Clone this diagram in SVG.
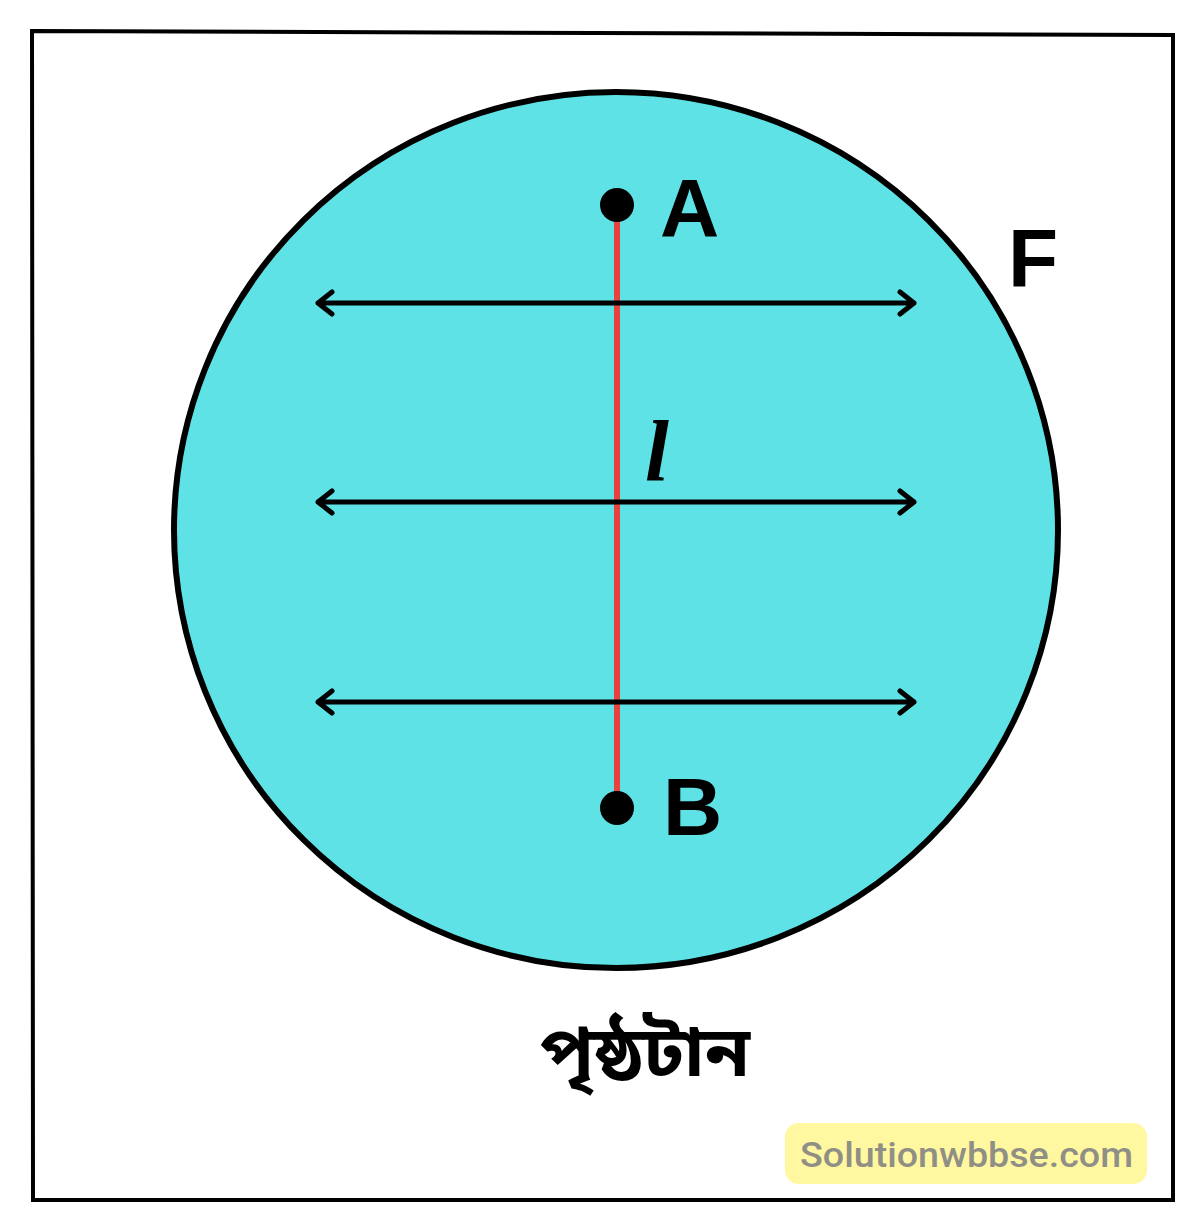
<svg xmlns="http://www.w3.org/2000/svg" width="1200" height="1222" viewBox="0 0 1200 1222">
  <style>
    .lbl { font-family: "Liberation Sans", Arial, sans-serif; font-weight: bold; font-size: 82px; fill: #000; }
    .arrow { stroke: #000; stroke-width: 5; fill: none; stroke-linecap: round; stroke-linejoin: round; }
  </style>
  <rect width="1200" height="1222" fill="#ffffff"/>
  <polygon id="frame" points="32,31 1173,35 1173,1200 33,1200" fill="none" stroke="#000" stroke-width="4"/>
  <g id="surface">
    <ellipse cx="616" cy="530" rx="442" ry="438" fill="#5ee2e6" stroke="#000" stroke-width="6"/>
  </g>
  <g id="connectors">
    <line x1="617" y1="205" x2="617" y2="808" stroke="#e8423c" stroke-width="6"/>
    <g class="arrow">
      <path d="M318,303 H914 M332,292 L318,303 L332,314 M900,292 L914,303 L900,314"/>
      <path d="M318,502 H914 M332,491 L318,502 L332,513 M900,491 L914,502 L900,513"/>
      <path d="M318,702 H914 M332,691 L318,702 L332,713 M900,691 L914,702 L900,713"/>
    </g>
  </g>
  <g id="pointA">
    <circle cx="617" cy="205" r="17" fill="#000"/>
    <text class="lbl" x="660" y="236">A</text>
  </g>
  <g id="pointB">
    <circle cx="617" cy="808" r="17" fill="#000"/>
    <text class="lbl" x="663" y="835">B</text>
  </g>
  <g id="labelF">
    <text class="lbl" x="1008" y="287">F</text>
  </g>
  <g id="labelL">
    <text x="645" y="480" font-family="Liberation Serif, serif" font-style="italic" font-weight="bold" font-size="86" fill="#000">l</text>
  </g>
  <g id="caption">
    <text x="540" y="1076" font-family="'Noto Sans Bengali', 'Noto Sans', 'Noto Serif Bengali', sans-serif" font-weight="bold" font-size="70" fill="#000" textLength="210" lengthAdjust="spacingAndGlyphs">পৃষ্ঠটান</text>
  </g>
  <g id="watermark">
    <rect x="785" y="1123" width="362" height="61" rx="14" fill="#fff8a0"/>
    <text x="800" y="1167" font-family="Roboto, 'Liberation Sans', sans-serif" font-weight="500" font-size="35" fill="#8f8f86" textLength="333" lengthAdjust="spacingAndGlyphs">Solutionwbbse.com</text>
  </g>
</svg>
